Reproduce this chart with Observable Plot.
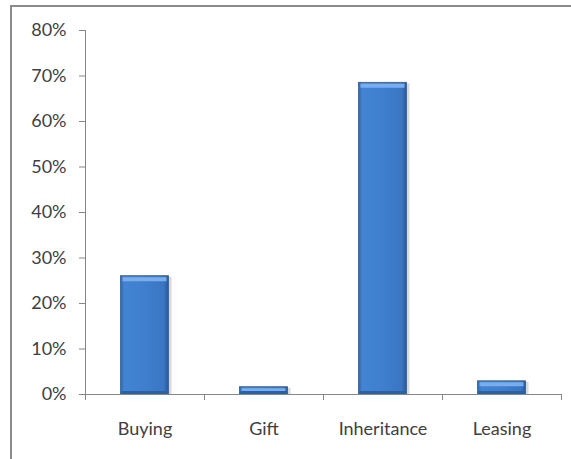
<!DOCTYPE html>
<html>
<head>
<meta charset="utf-8">
<script src="https://cdn.jsdelivr.net/npm/d3@7"></script>
<script src="https://cdn.jsdelivr.net/npm/@observablehq/plot@0.6"></script>
<style>
  html, body { margin: 0; padding: 0; background: #fff; }
  #wrap { position: relative; width: 571px; height: 459px; overflow: hidden; }
  #border { position: absolute; left: 10px; top: 5px; width: 561px; height: 454px;
            border-left: 2px solid #8a8a8a; border-top: 2px solid #8a8a8a; pointer-events: none; }
</style>
</head>
<body>
<div id="wrap"><div id="border"></div></div>
<script>
const categories = ["Buying", "Gift", "Inheritance", "Leasing"];
const shares = [0.26, 0.016, 0.685, 0.029];
const yTicks = [0, 0.1, 0.2, 0.3, 0.4, 0.5, 0.6, 0.7, 0.8];

const data = categories.map((c, i) => ({category: c, share: shares[i]}));

const W = 571, H = 459;
const mL = 85, mR = 10, mT = 30, mB = 65;
const step = (W - mL - mR) / categories.length;
const barW = 48;
const inset = (step - barW) / 2;
const font = "Lato, 'Open Sans', sans-serif";
const axisGray = "#868686";
const textGray = "#404040";

const chart = Plot.plot({
  width: W, height: H,
  marginLeft: mL, marginRight: mR, marginTop: mT, marginBottom: mB,
  style: {fontFamily: font, fontSize: "18px", background: "transparent"},
  x: {domain: categories, padding: 0},
  y: {domain: [0, 0.8]},
  marks: [
    // bar shadow
    Plot.barY(data, {x: "category", y: "share", fill: "#d9d9d9", insetLeft: inset + 3, insetRight: inset - 3, dy: 1}),
    Plot.barY(data, {x: "category", y: "share", fill: "url(#barGrad)", stroke: "#2d5c98", strokeWidth: 0.8, insetLeft: inset, insetRight: inset}),
    // top bevel highlight
    Plot.tickY(data, {x: "category", y: "share", stroke: "#78aef0", strokeWidth: 4, dy: 3, insetLeft: inset + 2, insetRight: inset + 2}),
    // bottom darker bevel
    Plot.tickY(data, {x: "category", y: () => 0, stroke: "#2f609e", strokeWidth: 3, dy: -2, insetLeft: inset + 1, insetRight: inset + 1}),
    // x axis line
    Plot.ruleY([0], {stroke: axisGray, strokeWidth: 1}),
    // y axis line
    Plot.ruleX([categories[0]], {y1: 0, y2: 0.8, dx: -step / 2, stroke: axisGray, strokeWidth: 1}),
    // category boundary ticks
    Plot.ruleX(categories, {y1: 0, y2: 0, insetBottom: -6, dx: -step / 2, stroke: axisGray}),
    Plot.ruleX([categories[categories.length - 1]], {y1: 0, y2: 0, insetBottom: -6, dx: step / 2, stroke: axisGray}),
    Plot.axisY({ticks: yTicks, tickFormat: d3.format(".0%"), tickSize: 6, tickPadding: 13,
                stroke: axisGray, fill: textGray, label: null, fontSize: 18}),
    Plot.axisX({tickSize: 0, tickPadding: 28, fill: textGray, label: null, fontSize: 18})
  ]
});

const svg = d3.select(chart);
const defs = svg.insert("defs", ":first-child");
const g = defs.append("linearGradient").attr("id", "barGrad")
  .attr("x1", "0").attr("y1", "0").attr("x2", "1").attr("y2", "0");
[[0, "#3568a8"], [0.08, "#4283d2"], [0.5, "#3f7fce"], [0.9, "#3a76c2"], [1, "#2b5893"]]
  .forEach(([o, c]) => g.append("stop").attr("offset", o).attr("stop-color", c));

document.getElementById("wrap").prepend(chart);
chart.style.position = "absolute";
chart.style.left = "0";
chart.style.top = "0";
</script>
</body>
</html>
